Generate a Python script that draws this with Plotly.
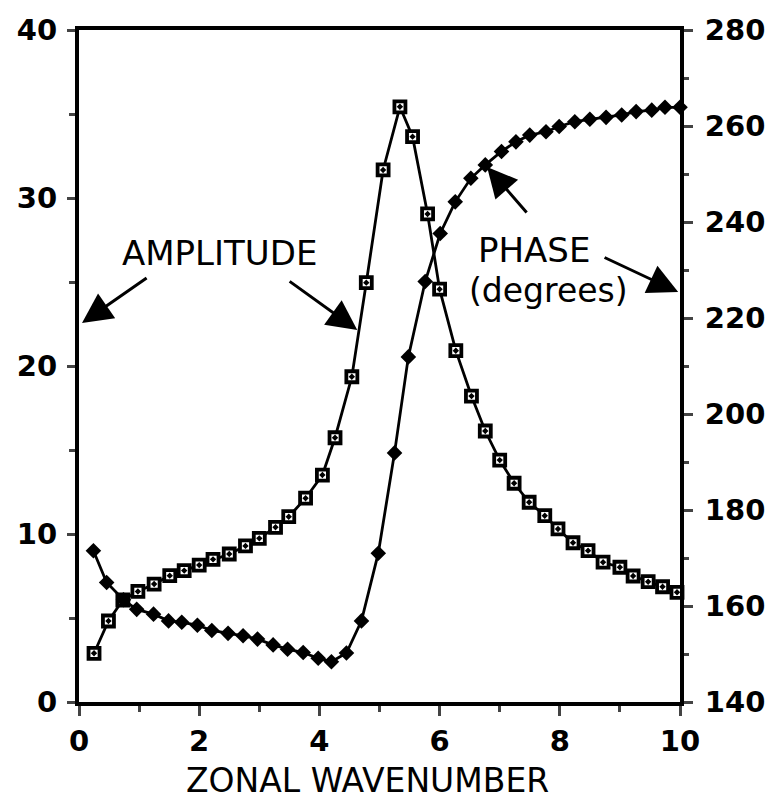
import plotly.graph_objects as go

# Amplitude (open squares with centre dot), left axis
amp_x = [0.25, 0.49, 0.73, 0.98, 1.25, 1.51, 1.75, 2.00, 2.23, 2.50, 2.77, 3.00, 3.27, 3.49,
         3.77, 4.05, 4.26, 4.54, 4.78, 5.06, 5.34, 5.55, 5.80, 6.00, 6.27, 6.53, 6.76, 7.00,
         7.24, 7.49, 7.75, 7.97, 8.22, 8.47, 8.72, 9.00, 9.22, 9.47, 9.71, 9.95]
amplitude = [2.90, 4.82, 6.07, 6.58, 7.02, 7.52, 7.82, 8.15, 8.49, 8.81, 9.29, 9.74, 10.40, 11.03,
             12.13, 13.51, 15.73, 19.36, 24.96, 31.67, 35.43, 33.65, 29.05, 24.57, 20.91, 18.21,
             16.13, 14.40, 13.02, 11.89, 11.09, 10.30, 9.48, 9.01, 8.32, 8.02, 7.50, 7.16, 6.86, 6.53]

# Phase in degrees (filled diamonds), right axis
phase_x = [0.24, 0.46, 0.74, 0.96, 1.24, 1.49, 1.71, 1.97, 2.21, 2.48, 2.73, 2.97, 3.23, 3.47,
           3.73, 3.98, 4.20, 4.45, 4.70, 4.98, 5.25, 5.48, 5.76, 6.01, 6.26, 6.52, 6.76, 7.03,
           7.27, 7.50, 7.77, 7.99, 8.25, 8.50, 8.77, 9.03, 9.27, 9.53, 9.75, 10.0]
phase = [171.5, 164.9, 161.3, 159.3, 158.3, 156.9, 156.6, 156.0, 154.9, 154.3, 153.8, 153.1,
         151.9, 151.0, 150.3, 149.1, 148.4, 150.2, 156.9, 171.0, 191.9, 211.9, 227.6, 237.6,
         244.2, 249.1, 251.9, 254.7, 256.7, 258.1, 258.8, 259.9, 260.9, 261.4, 261.8, 262.3,
         263.0, 263.3, 263.9, 263.9]

x_ticks = [0, 2, 4, 6, 8, 10]
amp_ticks = [0, 10, 20, 30, 40]
phase_ticks = [140, 160, 180, 200, 220, 240, 260, 280]
x_title = "ZONAL WAVENUMBER"

FONT = "DejaVu Sans"

fig = go.Figure()
fig.add_trace(go.Scatter(
    x=phase_x, y=phase, yaxis="y2", mode="lines+markers",
    line=dict(color="black", width=2.8),
    marker=dict(symbol="diamond", size=12, color="black"),
    cliponaxis=False, showlegend=False))
fig.add_trace(go.Scatter(
    x=amp_x, y=amplitude, mode="lines+markers",
    line=dict(color="black", width=2.8),
    marker=dict(symbol="square-dot", size=11, color="white",
                line=dict(color="black", width=3.8)),
    cliponaxis=False, showlegend=False))

tickfont = dict(family=FONT, size=29, color="black", weight="bold")
fig.update_layout(
    width=782, height=804,
    margin=dict(l=79, r=102, t=30, b=102),
    paper_bgcolor="white", plot_bgcolor="white",
    xaxis=dict(range=[0, 10], tickvals=x_ticks, ticks="outside", ticklen=10, tickwidth=2.5,
               showline=True, linewidth=4, linecolor="black", mirror=True,
               showgrid=False, zeroline=False, tickfont=tickfont, ticklabelstandoff=0,
               minor=dict(dtick=1, ticks="outside", ticklen=6, tickwidth=2.5, showgrid=False)),
    yaxis=dict(range=[0, 40], tickvals=amp_ticks, ticks="outside", ticklen=8, tickwidth=2.5,
               showline=True, linewidth=4, linecolor="black",
               showgrid=False, zeroline=False, tickfont=tickfont, ticklabelstandoff=4,
               minor=dict(dtick=5, ticks="outside", ticklen=6, tickwidth=2.5, showgrid=False)),
    yaxis2=dict(range=[140, 280], tickvals=phase_ticks, overlaying="y", side="right",
                ticks="outside", ticklen=9, tickwidth=2.5,
                showline=True, linewidth=4, linecolor="black",
                showgrid=False, zeroline=False, tickfont=tickfont, ticklabelstandoff=6,
                minor=dict(dtick=10, ticks="outside", ticklen=5, tickwidth=2.5, showgrid=False)),
)

annos = [
    dict(x=4.8, y=0, xref="x", yref="paper", yanchor="middle", yshift=-78, text=x_title,
         showarrow=False, font=dict(family=FONT, size=33, color="black")),
    dict(x=2.33, y=26.7, xref="x", yref="y", text="AMPLITUDE", showarrow=False,
         font=dict(family=FONT, size=34, color="black")),
    dict(x=7.57, y=26.9, xref="x", yref="y", text="PHASE", showarrow=False,
         font=dict(family=FONT, size=34, color="black")),
    dict(x=7.82, y=24.5, xref="x", yref="y", text="(degrees)", showarrow=False,
         font=dict(family=FONT, size=33, color="black")),
]
arrows = [
    ((0.05, 22.56), (1.15, 25.3)),
    ((4.63, 22.14), (3.48, 25.1)),
    ((6.79, 31.85), (7.47, 29.05)),
    ((9.97, 24.4), (8.72, 26.5)),
]
for (tx, ty), (sx, sy) in arrows:
    annos.append(dict(x=tx, y=ty, ax=sx, ay=sy, xref="x", yref="y", axref="x", ayref="y",
                      text="", showarrow=True, arrowhead=2, arrowsize=2, arrowwidth=3,
                      arrowcolor="black", standoff=0))
fig.update_layout(annotations=annos)

fig.write_html("out.html")
